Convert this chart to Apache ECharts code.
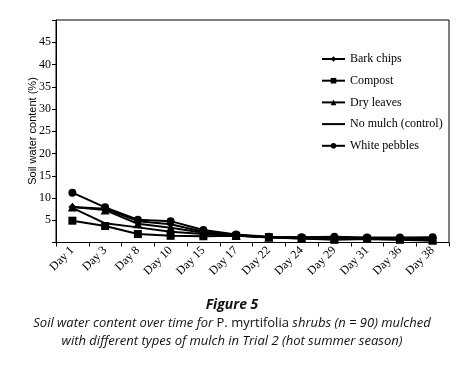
<!DOCTYPE html>
<html><head><meta charset="utf-8">
<script src="https://cdn.jsdelivr.net/npm/echarts@6/dist/echarts.min.js"></script>
<style>html,body{margin:0;padding:0;background:#fff}#c{width:464px;height:366px}</style>
</head><body><div id="c"></div>
<script>
const categories = ["Day 1","Day 3","Day 8","Day 10","Day 15","Day 17","Day 22","Day 24","Day 29","Day 31","Day 36","Day 38"];
const barkChips    = [8.0, 7.6, 4.8, 4.1, 2.4, 1.7, 1.2, 1.1, 1.1, 1.0, 1.0, 1.0];
const compost      = [4.9, 3.7, 1.9, 1.5, 1.4, 1.5, 1.2, 0.9, 0.6, 0.8, 0.6, 0.4];
const dryLeaves    = [8.0, 7.3, 4.2, 3.3, 2.2, 1.6, 1.2, 1.0, 1.0, 1.0, 0.9, 0.8];
const noMulch      = [7.8, 4.3, 3.4, 2.4, 1.9, 1.6, 1.1, 0.9, 0.8, 0.8, 0.7, 0.5];
const whitePebbles = [11.2, 7.9, 5.1, 4.8, 2.8, 1.8, 1.3, 1.2, 1.3, 1.1, 1.1, 1.2];
const yTicks = [5,10,15,20,25,30,35,40,45];

const serif = '"Liberation Serif", "DejaVu Serif", serif';
function mk(name, data, symbol, size){
  return {name, type:'line', data, symbol, symbolSize:size, showSymbol: symbol!=='none',
    lineStyle:{color:'#000', width:2}, itemStyle:{color:'#000'}, emphasis:{disabled:true}};
}
const chart = echarts.init(document.getElementById('c'));
chart.setOption({
  animation:false,
  grid:{left:56, right:15, top:20, bottom:123.5, show:true, borderColor:'#000', borderWidth:1},
  legend:{orient:'vertical', left:316, top:48, itemWidth:23, itemHeight:7, itemGap:9.7,
    textStyle:{fontFamily:serif, fontSize:12, color:'#000'},
    data:['Bark chips','Compost','Dry leaves',
      {name:'No mulch (control)', itemStyle:{opacity:0}},
      'White pebbles']},
  xAxis:{type:'category', data:categories, boundaryGap:true,
    axisLine:{lineStyle:{color:'#000', width:1}},
    axisTick:{show:true, length:4, lineStyle:{color:'#000'}},
    axisLabel:{rotate:45, fontFamily:serif, fontSize:12, color:'#000', margin:6}},
  yAxis:{type:'value', min:0, max:50, interval:5,
    axisLine:{show:true, lineStyle:{color:'#000'}},
    axisTick:{show:true, length:4, lineStyle:{color:'#000'}},
    splitLine:{show:false},
    axisLabel:{fontFamily:serif, fontSize:12, color:'#000', margin:5,
      formatter: v => yTicks.includes(v) ? String(v) : ''}},
  series:[
    mk('Bark chips', barkChips, 'diamond', 8),
    mk('Compost', compost, 'rect', 8),
    mk('Dry leaves', dryLeaves, 'triangle', 9),
    mk('No mulch (control)', noMulch, 'none', 0),
    mk('White pebbles', whitePebbles, 'circle', 8)
  ],
  graphic:[
    {type:'text', x:33, y:131, rotation:Math.PI/2, style:{text:'Soil water content (%)',
      font:'11px "Liberation Sans", Arial, sans-serif', fill:'#000', align:'center', verticalAlign:'middle'}},
    {type:'text', left:'center', top:298, style:{text:'Figure 5', font:'italic bold 14px "Open Sans", sans-serif', fill:'#111'}},
    {type:'text', left:'center', top:317, style:{
      text:'{i|Soil water content over time for }{n|P. myrtifolia}{i| shrubs (n = 90) mulched}',
      rich:{i:{font:'italic 13px "Open Sans", sans-serif', fill:'#111'}, n:{font:'13px "Open Sans", sans-serif', fill:'#111'}}}},
    {type:'text', left:'center', top:335, style:{
      text:'with different types of mulch in Trial 2 (hot summer season)',
      font:'italic 13px "Open Sans", sans-serif', fill:'#111'}}
  ]
});
</script></body></html>
